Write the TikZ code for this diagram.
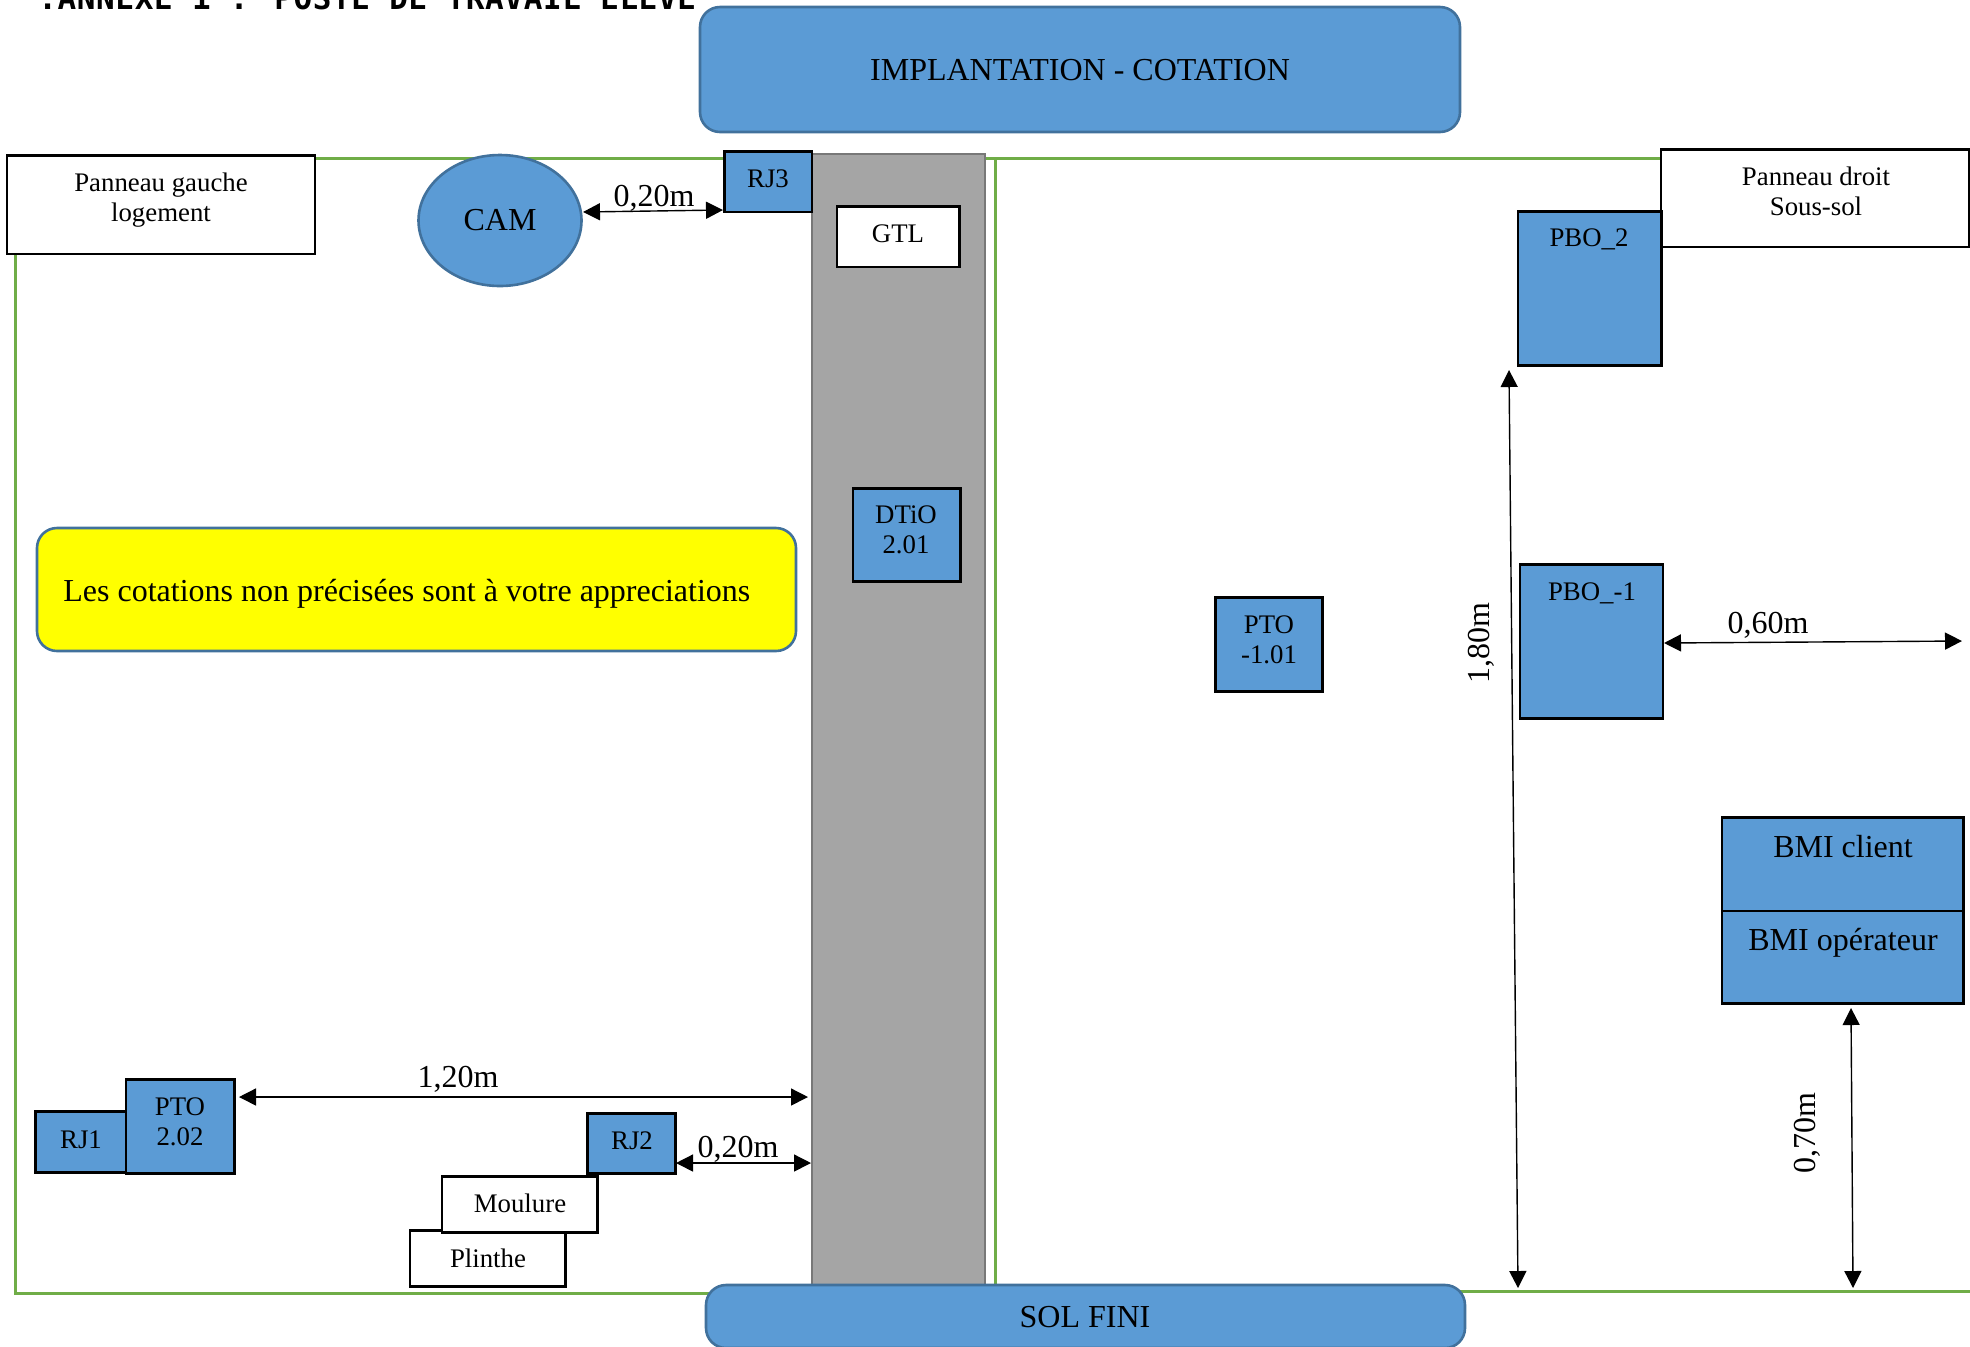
\documentclass[tikz,border=0pt]{standalone}
\usepackage{fontspec}
\setmainfont{Liberation Serif}
\newfontfamily\titlefont[LetterSpace=2]{DejaVu Sans Mono}
\usetikzlibrary{arrows.meta,shapes.geometric}
\definecolor{bluefill}{HTML}{5B9BD5}
\definecolor{blueline}{HTML}{41719C}
\definecolor{greenline}{HTML}{70AD47}
\definecolor{greyfill}{HTML}{A5A5A5}
\definecolor{greyline}{HTML}{787878}
\definecolor{notefill}{RGB}{255,255,0}
\newcommand{\fs}[1]{\fontsize{#1}{#1}\selectfont}
\tikzset{
  x=0.5pt,y=-0.5pt,
  region/.style={draw=greenline,line width=1.5pt},
  whitebox/.style={draw=black,line width=1.45pt,fill=white},
  bluebox/.style={draw=black,line width=1.45pt,fill=bluefill},
  banner/.style={draw=blueline,line width=1.3pt,fill=bluefill,rounded corners=10pt},
  note/.style={draw=blueline,line width=1.3pt,fill=notefill,rounded corners=10pt},
  column/.style={draw=greyline,line width=1.3pt,fill=greyfill},
  dim/.style={draw=black,line width=0.7pt,{Triangle[length=8.5pt,width=8.5pt]}-{Triangle[length=8.5pt,width=8.5pt]}},
  lab/.style={inner sep=0pt,align=center,text=black},
  small/.style={lab,font=\fs{13.4}},
  big/.style={lab,font=\fs{16}},
}
% name, x1, y1, x2, y2, style
\newcommand{\bx}[6]{\node[#6,rectangle,inner sep=0pt,outer sep=0pt,anchor=north west,
  minimum width={0.5pt*(#4-#2)},minimum height={0.5pt*(#5-#3)}] (#1) at (#2,#3) {};}
\begin{document}
\begin{tikzpicture}
\useasboundingbox (0,0) rectangle (1970,1346);
\node[anchor=base west,inner sep=0pt,text=black] (titre) at (38,9) {\titlefont\bfseries\fs{15.5}.ANNEXE 1 : POSTE DE TRAVAIL ELEVE};
% regions
\draw[region] (15,158) rectangle (995,1293);
\draw[region] (995,158) -- (1660,158);
\draw[region] (995,1291) -- (1975,1291);
% column
\bx{colonne}{812}{154}{985}{1290}{column}
% banners
\bx{implbox}{700}{7}{1460}{132}{banner}
\node[big] (impl) at (1080,70) {IMPLANTATION - COTATION};
\bx{solbox}{706}{1285}{1465}{1348}{banner}
\node[big] (sol) at (1085,1317) {SOL FINI};
% white boxes
\bx{pgbox}{7}{155.5}{315}{254}{whitebox}
\node[small] (pg) at (161,200) {Panneau gauche\\[1.5pt]logement};
\bx{pdbox}{1661}{149.5}{1969}{247}{whitebox}
\node[small] (pd) at (1816,191) {Panneau droit\\[1.5pt]Sous-sol};
\bx{gtlbox}{837}{206.5}{959.5}{267}{whitebox}
\node[small] (gtl) at (898,234) {GTL};
\bx{plbox}{410}{1230.5}{565.5}{1286.5}{whitebox}
\node[small] (pl) at (488,1258) {Plinthe};
\bx{mobox}{442}{1176.5}{597.5}{1232.5}{whitebox}
\node[small] (mo) at (520,1203) {Moulure};
% CAM
\node[ellipse,draw=blueline,line width=1.3pt,fill=bluefill,minimum width=81.5pt,minimum height=65.5pt,inner sep=0pt,outer sep=0pt,font=\fs{16}] (cam) at (500,220.5) {\raisebox{-0.5pt}{CAM}};
% blue boxes
\bx{rjtrois}{724.5}{151.5}{812}{212}{bluebox}
\node[small] (rj3) at (768,179) {RJ3};
\bx{dtiobox}{853}{488.5}{960.5}{581.5}{bluebox}
\node[small] (dtio) at (906,530) {DTiO\\[1.5pt]2.01};
\bx{ptounbox}{1215.5}{597.5}{1322.5}{691.5}{bluebox}
\node[small] (pto1) at (1269,640) {PTO\\[1.5pt]-1.01};
\bx{pbodeux}{1518}{211.5}{1661.5}{365.5}{bluebox}
\node[small] (pbo2) at (1589,239) {PBO\_2};
\bx{pbomoins}{1520}{564.5}{1663}{718.5}{bluebox}
\node[small] (pbo1) at (1592,593) {PBO\_-1};
\bx{bmicbox}{1722}{817.5}{1963.5}{911}{bluebox}
\node[big] (bmic) at (1843,847) {BMI client};
\bx{bmiobox}{1722}{911}{1963.5}{1003.5}{bluebox}
\node[big] (bmio) at (1843,943) {BMI opérateur};
\bx{rjun}{35.5}{1111.5}{126}{1172.5}{bluebox}
\node[small] (rj1) at (81,1140) {RJ1};
\bx{ptodeux}{126}{1079.5}{234.5}{1173.5}{bluebox}
\node[small] (pto2) at (180,1122) {PTO\\[1.5pt]2.02};
\bx{rjdeux}{587.5}{1113.5}{675.5}{1173.5}{bluebox}
\node[small] (rj2) at (632,1141) {RJ2};
% yellow note
\bx{notebox}{37}{528}{796}{651}{note}
\node[big,anchor=west] (notetxt) at (63,593.5) {Les cotations non précisées sont à votre appreciations};
% dimension arrows
\coordinate (a1) at (583,212); \coordinate (a2) at (723,210);
\draw[dim] (a1) -- (a2);
\node[big] (d1) at (654,198) {0,20m};
\coordinate (b1) at (239,1097); \coordinate (b2) at (808,1097);
\draw[dim] (b1) -- (b2);
\node[big] (d2) at (458,1079) {1,20m};
\coordinate (c1) at (676,1163); \coordinate (c2) at (811,1163);
\draw[dim] (c1) -- (c2);
\node[big] (d3) at (738,1149) {0,20m};
\coordinate (e1) at (1509,370); \coordinate (e2) at (1518,1288);
\draw[dim] (e1) -- (e2);
\node[big,rotate=90] (d4) at (1481,643) {1,80m};
\coordinate (f1) at (1664,643); \coordinate (f2) at (1962,641);
\draw[dim] (f1) -- (f2);
\node[big] (d5) at (1768,625) {0,60m};
\coordinate (g1) at (1851,1008); \coordinate (g2) at (1853,1288);
\draw[dim] (g1) -- (g2);
\node[big,rotate=90] (d6) at (1807,1133) {0,70m};
\end{tikzpicture}
\end{document}
